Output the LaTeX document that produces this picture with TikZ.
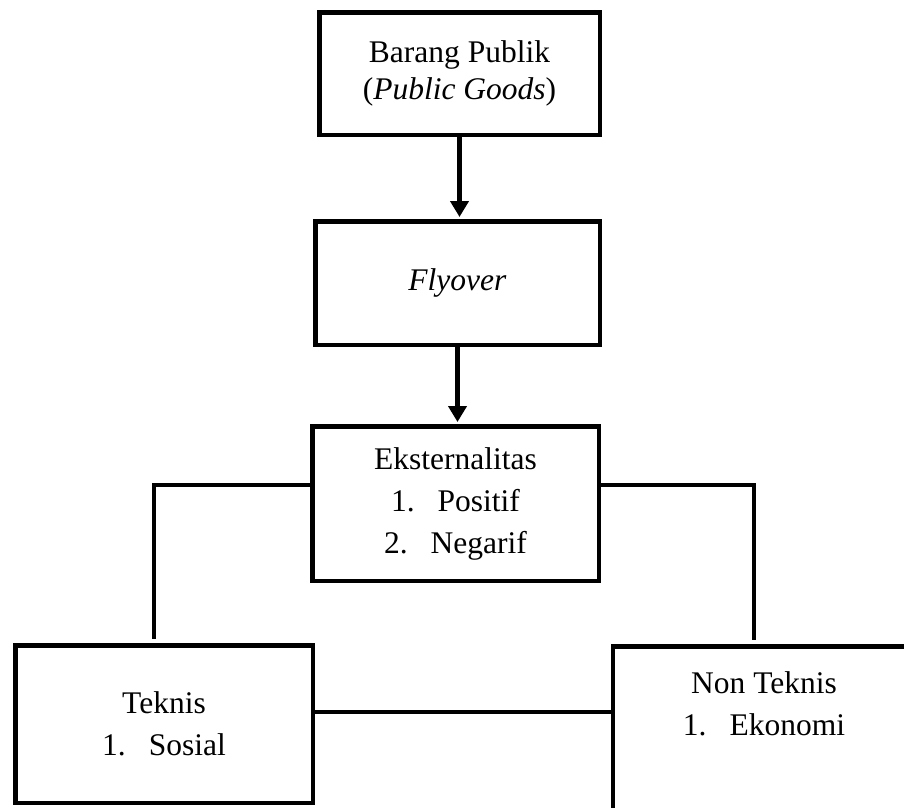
\documentclass[tikz,border=0pt]{standalone}
\usepackage{fontspec}
\setmainfont{Liberation Serif}
\usetikzlibrary{arrows.meta}

\tikzset{
  kotak/.style={draw, line width=4.5pt, align=center, inner sep=0pt,
    font=\fontsize{31.5}{42}\selectfont},
  teks/.style={align=center, inner sep=0pt, font=\fontsize{31.5}{42}\selectfont},
  garis/.style={line width=4.5pt},
  panah/.style={line width=4.5pt, -{Triangle[length=16pt,width=18pt]}, shorten >=2pt},
}

\begin{document}
\begin{tikzpicture}[x=1pt,y=-1pt]
\useasboundingbox (0,0) rectangle (904,807);

\node[kotak, minimum width=280.5pt, minimum height=122.5pt] (barang) at (459.5,73.5) {Barang Publik\\[-5pt](\textit{Public Goods})};
\node[kotak, minimum width=284.5pt, minimum height=123.5pt] (flyover) at (457.5,283) {\textit{Flyover}};
\node[kotak, minimum width=286.5pt, minimum height=154.5pt] (eks) at (455.5,503.5) {Eksternalitas\\1.\hspace{23pt}Positif\\2.\hspace{23pt}Negarif};

\node[kotak, minimum width=297.5pt, minimum height=157.5pt] (teknis) at (164,724) {Teknis\\1.\hspace{23pt}Sosial};
\node[kotak, minimum width=345.5pt, minimum height=211.5pt] (nonteknis) at (785.5,752) {};
\node[teks] (nonteknisteks) at (764,704) {Non Teknis\\1.\hspace{23pt}Ekonomi};

% panah ke bawah
\draw[panah] (barang.south) -- (barang.south |- flyover.north);
\draw[panah] (flyover.south) -- (flyover.south |- eks.north);

% cabang kiri dan kanan
\coordinate (kiri) at (154,485);
\coordinate (kanan) at (754,485);
\draw[garis, shorten >=4pt] (eks.west |- kiri) -- (kiri) -- (kiri |- teknis.north);
\draw[garis, shorten >=4pt] (eks.east |- kanan) -- (kanan) -- (kanan |- nonteknis.north);

\draw[garis] (teknis.east |- 0,712) -- (nonteknis.west |- 0,712);

\end{tikzpicture}
\end{document}
